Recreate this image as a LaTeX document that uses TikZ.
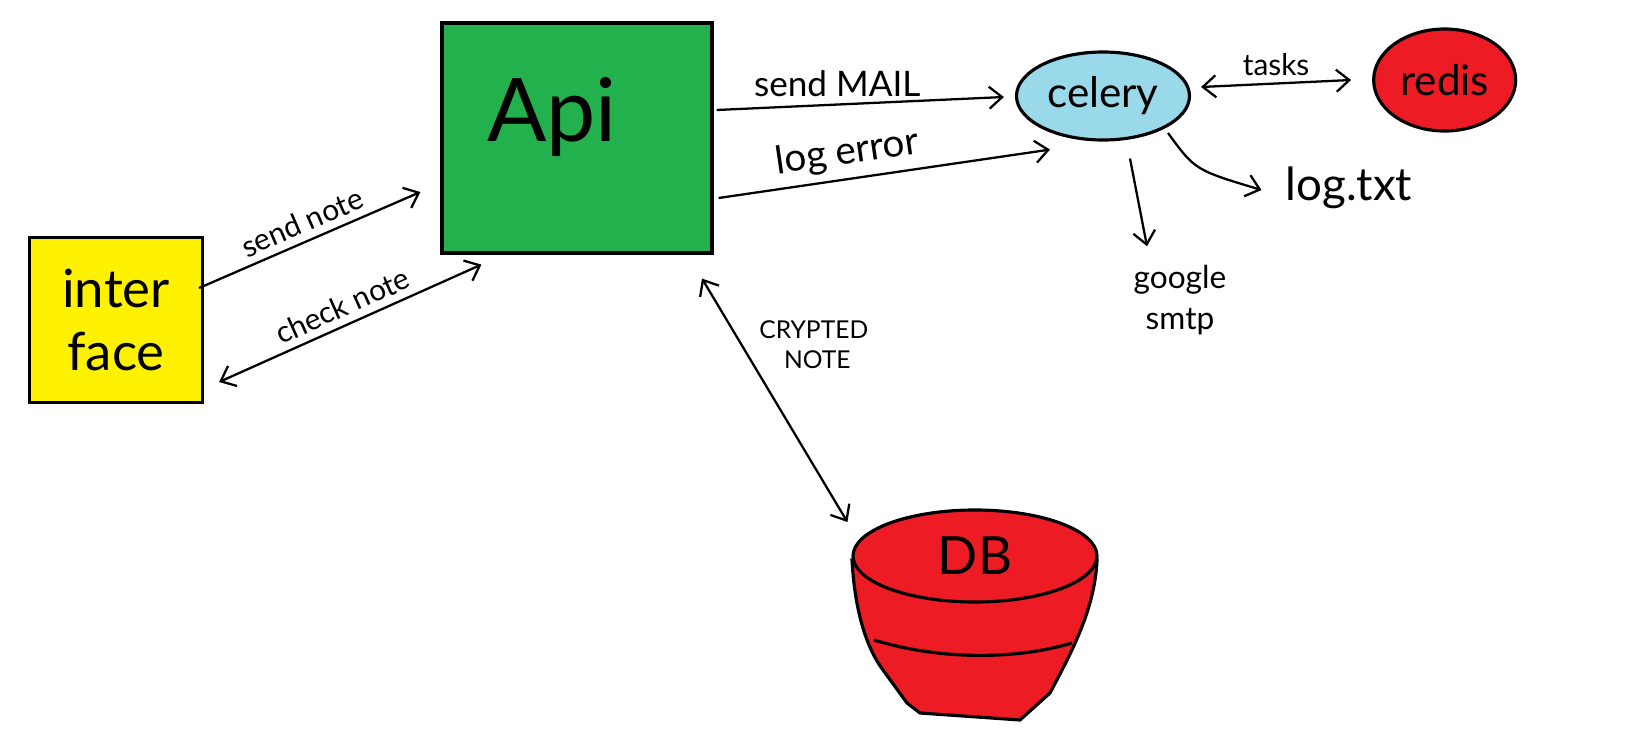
\documentclass[tikz,border=0pt]{standalone}
\usepackage{fontspec}
\setmainfont{Lato}
\usetikzlibrary{arrows.meta,positioning,shapes.geometric,calc}
\definecolor{apigreen}{RGB}{34,177,76}
\definecolor{noteyellow}{RGB}{255,242,0}
\definecolor{celeryblue}{RGB}{153,217,234}
\definecolor{storered}{RGB}{237,28,36}
\tikzset{
  block/.style={rectangle, draw=black, line width=1.8pt, align=center, inner sep=2pt},
  blob/.style={ellipse, draw=black, line width=1.8pt, align=center, inner sep=1pt},
  arrow/.style={-{Straight Barb[length=2.6mm,width=4.4mm]}, line width=1.3pt},
  twoway/.style={{Straight Barb[length=2.6mm,width=4.4mm]}-{Straight Barb[length=2.6mm,width=4.4mm]}, line width=1.3pt},
  lbl/.style={font=\fontsize{17}{20}\selectfont, align=center, inner sep=4pt},
}

\begin{document}
\begin{tikzpicture}[x=0.2mm, y=-0.2mm]
  \useasboundingbox (0,0) rectangle (1634,738);
  % boxes
  \node[block, fill=noteyellow, minimum width=34.6mm, minimum height=33mm,
        font=\fontsize{30}{36}\selectfont] (iface) at (116,320) {inter\\face};
  \node[block, fill=apigreen, minimum width=54mm, minimum height=46mm,
        label={[font=\fontsize{50}{52}\selectfont, xshift=-5mm, yshift=4.2mm]center:Api}] (api) at (577,138) {};
  \node[blob, fill=celeryblue, minimum width=34.6mm, minimum height=17.6mm,
        font=\fontsize{24}{26}\selectfont] (celery) at (1103,96) {celery};
  \node[blob, fill=storered, minimum width=28.4mm, minimum height=20.4mm,
        font=\fontsize{24}{26}\selectfont, right=36.2mm of celery, yshift=3.2mm] (redis) {redis};
  \node[font=\fontsize{26}{28}\selectfont] (logtxt) at (1349,188) {log.txt};
  \node[font=\fontsize{18}{23}\selectfont, align=center] (smtp) at (1180,300) {google\\smtp};
  % db bucket
  \draw[line width=1.8pt, fill=storered] (852,560) .. controls (855,615) and (868,650) .. (883,670)
    -- (907,703) -- (920,713) -- (1020,720) -- (1050,693)
    .. controls (1070,655) and (1095,610) .. (1097,560) -- cycle;
  \draw[line width=1.8pt] (874,640) .. controls (940,660) and (1015,660) .. (1072,643);
  \node[ellipse, draw=black, line width=1.8pt, fill=storered, minimum width=48.8mm, minimum height=18.4mm,
        font=\fontsize{30}{32}\selectfont] (db) at (975,556) {DB};
  % connectors
  \draw[arrow] ($(iface.east)+(-5,-32)$) -- node[lbl, above, sloped]{send note} ($(api.west)+(-20,54)$);
  \draw[twoway] ($(iface.east)+(15,62)$) -- node[lbl, above, sloped]{check note} ($(api.south west)+(41,10)$);
  \draw[arrow] ($(api.east)+(3,-28)$) -- node[lbl, above, pos=0.42, font=\fontsize{20}{22}\selectfont]{send MAIL} ($(celery.west)+(-11,1)$);
  \draw[arrow] ($(api.east)+(5,60)$) -- node[lbl, above, sloped, pos=0.4, font=\fontsize{22}{24}\selectfont]{log error} ($(celery.south)+(-53,8)$);
  \draw[twoway] ($(api.south)+(125,24)$) -- node[lbl, right, pos=0.27, xshift=2mm, align=left, font=\fontsize{14}{17}\selectfont]{CRYPTED\\\hspace*{1em}NOTE} ($(db.west)+(-4,-34)$);
  \draw[twoway] ($(celery.east)+(10,-9)$) -- node[lbl, above]{tasks} ($(redis.west)+(-21,0)$);
  \draw[arrow] ($(celery.center)+(65,37)$) .. controls (1195,170) .. ($(logtxt.west)+(-18,2)$);
  \draw[arrow] ($(celery.south)+(27,17)$) -- ($(smtp.north)+(-33,-13)$);
\end{tikzpicture}
\end{document}
